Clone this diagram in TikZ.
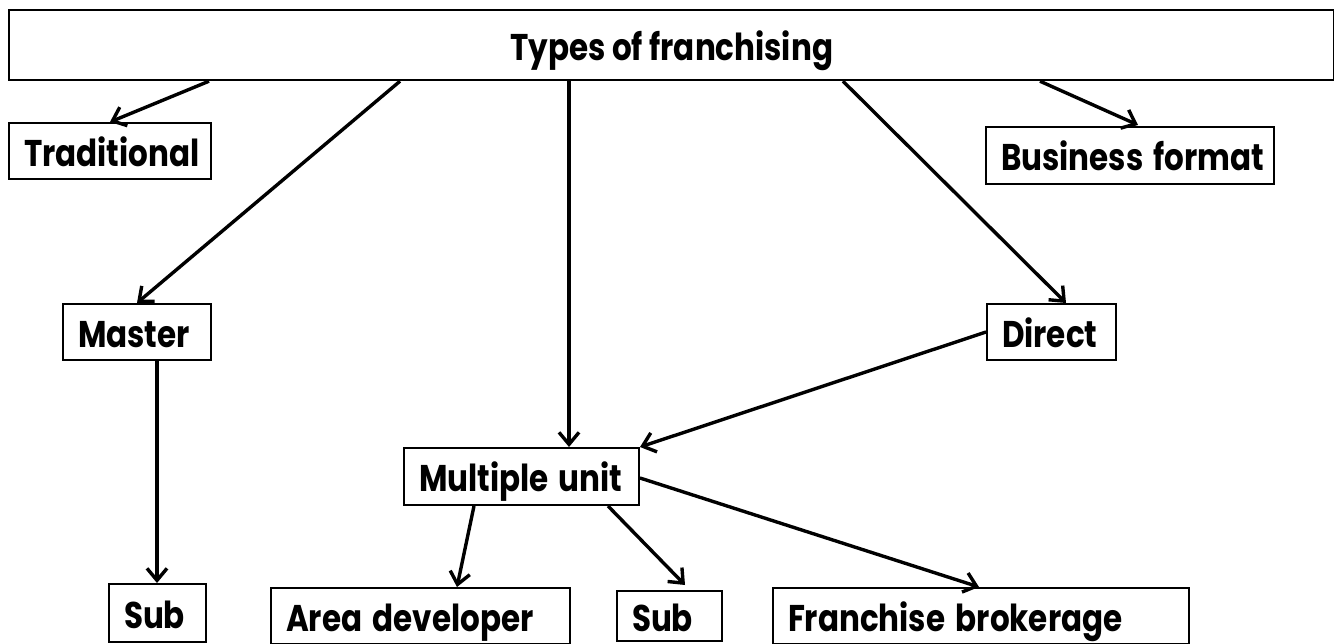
\documentclass[tikz,border=0pt]{standalone}
\usepackage{fontspec}
\setmainfont{Poppins}
\usetikzlibrary{arrows.meta}
\newcommand{\lblfont}{\fontsize{31}{31}\selectfont\bfseries}
\newcommand{\tallt}[1]{\scalebox{1}[1.2]{#1}}
\begin{document}
\begin{tikzpicture}[x=1pt,y=1pt,
  box/.style={draw, line width=2pt, inner xsep=15pt, inner ysep=0pt, align=left,
    text height=30pt, text depth=0pt, font=\lblfont, anchor=north west},
  arr/.style={line width=3.4pt, -{Straight Barb[length=12pt,width=20pt]}}]
\useasboundingbox (0,0) rectangle (1334,-643);
% boxes
\node[draw, line width=2.2pt, minimum width=1325pt, minimum height=70pt, inner sep=0pt,
  text height=30pt, text depth=0pt, font=\lblfont, anchor=north west] (top) at (8,-9) {\tallt{Types of franchising}};
\node[box, text width=172pt, minimum height=56pt] (trad) at (8,-122) {\tallt{Traditional}};
\node[box, text width=258pt, minimum height=57pt] (biz) at (985,-126) {\tallt{Business format}};
\node[box, text width=118pt, minimum height=56pt] (master) at (62,-303) {\tallt{Master}};
\node[box, text width=99pt, minimum height=56pt] (direct) at (986,-303) {\tallt{Direct}};
\node[box, text width=205pt, minimum height=57pt] (multi) at (403,-447) {\tallt{Multiple unit}};
\node[box, text width=67pt, minimum height=58pt] (subL) at (108,-583) {\tallt{Sub}};
\node[box, text width=269pt, minimum height=56pt] (area) at (270,-587) {\tallt{Area developer}};
\node[box, text width=75pt, minimum height=50pt] (subM) at (616,-590) {\tallt{Sub}};
\node[box, text width=386pt, minimum height=56pt] (fran) at (772,-587) {\tallt{Franchise brokerage}};
% connectors
\draw[arr] ([xshift=201pt]top.south west) -- ([xshift=102pt]trad.north west);
\draw[arr] ([xshift=392pt]top.south west) -- ([xshift=75pt]master.north west);
\draw[arr] ([xshift=561pt]top.south west) -- ([xshift=166pt]multi.north west);
\draw[arr] ([xshift=835pt]top.south west) -- ([xshift=80pt]direct.north west);
\draw[arr] ([xshift=1032pt]top.south west) -- ([xshift=153pt,yshift=1pt]biz.north west);
\draw[arr] (direct.west) -- (multi.north east);
\draw[arr] ([xshift=95pt]master.south west) -- ([xshift=49pt]subL.north west);
\draw[arr] ([xshift=71pt]multi.south west) -- ([xshift=187pt]area.north west);
\draw[arr] ([xshift=205pt]multi.south west) -- ([xshift=69pt,yshift=5pt]subM.north west);
\draw[arr] ([yshift=-1.5pt]multi.east) -- ([xshift=207pt]fran.north west);
\end{tikzpicture}
\end{document}
